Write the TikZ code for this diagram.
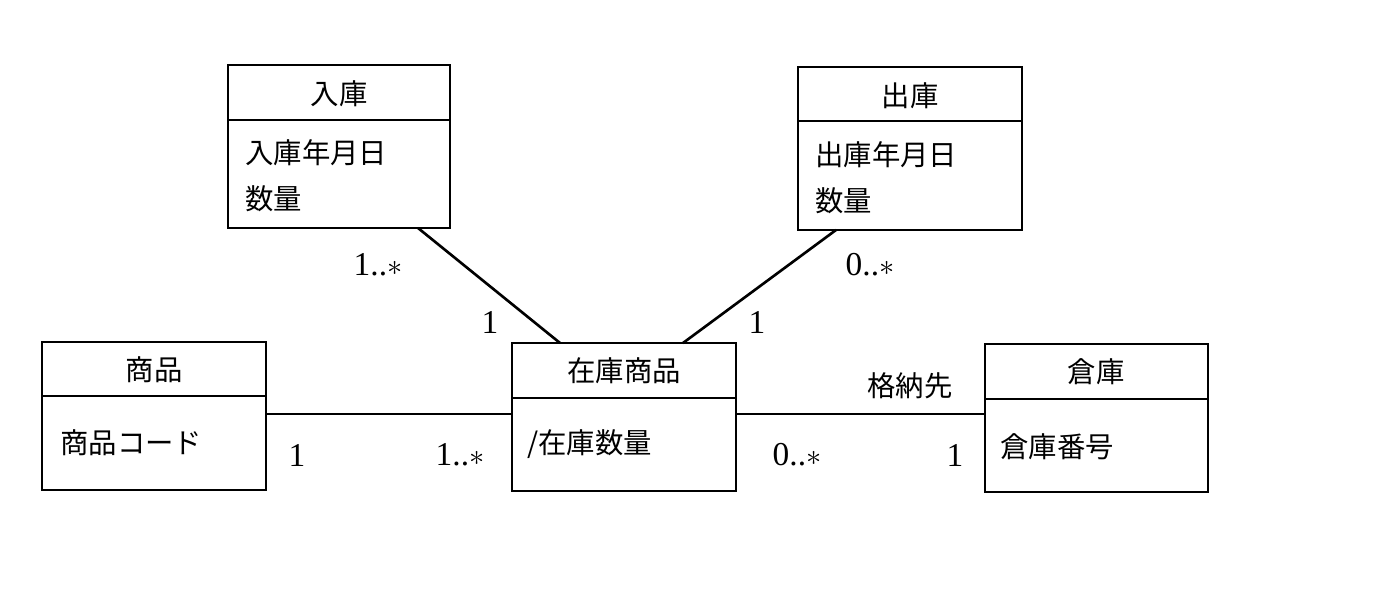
\documentclass[tikz,border=0pt]{standalone}
\usepackage{fontspec}
\setmainfont{Liberation Serif}
\newfontfamily\cjk{Noto Sans CJK JP}[Scale=0.95]
\begin{document}
\begin{tikzpicture}[x=0.02cm,y=-0.02cm,
  box/.style={draw,line width=1.3pt},
  sep/.style={line width=1.3pt},
  conn/.style={line width=1.5pt},
  t/.style={font=\fontsize{17}{26}\selectfont\cjk,inner sep=0pt},
  lab/.style={font=\fontsize{19}{22}\selectfont,inner sep=0pt}]
\useasboundingbox (0,0) rectangle (1400,590);
% boxes
\draw[box] (228,65) rectangle (450,228); \draw[sep] (228,120) -- (450,120);
\coordinate (nyuB) at (418,228);
\node[t] (nyuH) at (339,94) {入庫};
\node[t,align=left,anchor=west] (nyuA) at (245,176) {入庫年月日\\数量};
\draw[box] (798,67) rectangle (1022,230); \draw[sep] (798,121) -- (1022,121);
\coordinate (shuB) at (836,230);
\node[t] (shuH) at (910,96) {出庫};
\node[t,align=left,anchor=west] (shuA) at (815,178) {出庫年月日\\数量};
\draw[box] (42,342) rectangle (266,490); \draw[sep] (42,396) -- (266,396);
\coordinate (shoR) at (266,414);
\node[t] (shoH) at (154,370) {商品};
\node[t,anchor=west] (shoA) at (60,443) {商品コード};
\draw[box] (512,343) rectangle (736,491); \draw[sep] (512,398) -- (736,398);
\coordinate (zaiL) at (512,414); \coordinate (zaiR) at (736,414);
\coordinate (zaiT1) at (560,343); \coordinate (zaiT2) at (683,343);
\node[t] (zaiH) at (624,371) {在庫商品};
\node[t,anchor=west] (zaiA) at (527,444) {/在庫数量};
\draw[box] (985,344) rectangle (1208,492); \draw[sep] (985,399) -- (1208,399);
\coordinate (soL) at (985,414);
\node[t] (soH) at (1096,372) {倉庫};
\node[t,anchor=west] (soA) at (1000,447) {倉庫番号};
% connectors
\draw[conn] (nyuB) -- (zaiT1);
\draw[conn] (shuB) -- (zaiT2);
\draw[conn] (shoR) -- (zaiL);
\draw[conn] (zaiR) -- (soL);
% labels
\node[lab] (l1) at (378,265) {1..$\ast$};
\node[lab] (l2) at (490,322) {1};
\node[lab] (l3) at (870,265) {0..$\ast$};
\node[lab] (l4) at (757,322) {1};
\node[lab] (l5) at (297,455) {1};
\node[lab] (l6) at (460,455) {1..$\ast$};
\node[lab] (l7) at (797,455) {0..$\ast$};
\node[lab] (l8) at (955,455) {1};
\node[t] (l9) at (910,386) {格納先};
\end{tikzpicture}
\end{document}
